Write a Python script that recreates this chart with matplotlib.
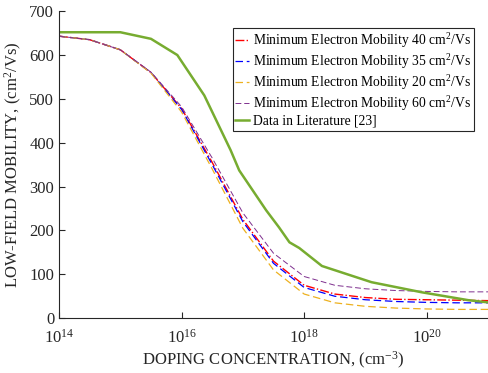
import numpy as np
import matplotlib
matplotlib.use('Agg')
import matplotlib.pyplot as plt

plt.rcParams['font.family'] = 'Liberation Serif'
plt.rcParams['mathtext.fontset'] = 'custom'
plt.rcParams['mathtext.rm'] = 'Liberation Serif'
plt.rcParams['mathtext.it'] = 'Liberation Serif'

# doping concentration as log10(cm^-3)
log_n = [14, 14.5, 15, 15.5, 16, 16.5, 17, 17.5, 18, 18.5, 19, 19.5, 20, 20.5, 21]

mob_40 = [643, 635, 612, 560, 478, 355, 225, 130, 75, 55, 47, 43, 42, 41, 40]
mob_35 = [643, 635, 612, 560, 476, 350, 220, 125, 70, 50, 42, 38, 36, 35, 35]
mob_20 = [643, 635, 612, 559, 470, 340, 205, 110, 55, 35, 27, 23, 21, 20, 20]
mob_60 = [643, 635, 612, 561, 482, 365, 240, 148, 95, 75, 67, 63, 61, 60, 60]

lit_log_n = [14, 15, 15.5, 15.93, 16.37, 16.8, 16.94, 17.38, 17.59, 17.76, 17.92,
             18.29, 19.1, 19.92, 20.68, 21]
lit_mob = [652, 652, 637, 600, 508, 383, 337, 246, 207, 173, 160,
           119, 82, 59, 41, 36]

fig = plt.figure(figsize=(4.88, 3.73), dpi=100)
ax = fig.add_axes([0.121, 0.147, 0.879, 0.823])

ax.plot(10.0 ** np.array(log_n), mob_40, color='#ff0000', ls='-.', lw=1.0,
        label='Minimum Electron Mobility 40 cm$^2$/Vs')
ax.plot(10.0 ** np.array(log_n), mob_35, color='#0000ff', ls=(0, (6, 3)), lw=0.9,
        label='Minimum Electron Mobility 35 cm$^2$/Vs')
ax.plot(10.0 ** np.array(log_n), mob_20, color='#EDB120', ls=(0, (6, 3)), lw=0.9,
        label='Minimum Electron Mobility 20 cm$^2$/Vs')
ax.plot(10.0 ** np.array(log_n), mob_60, color='#7E2F8E', ls=(0, (6, 3)), lw=0.7,
        label='Minimum Electron Mobility 60 cm$^2$/Vs')
ax.plot(10.0 ** np.array(lit_log_n), lit_mob, color='#77AC30', lw=1.8,
        label='Data in Literature [23]')

ax.set_xscale('log')
ax.set_xlim(1e14, 1e21)
ax.set_ylim(0, 700)
ax.set_xticks([1e14, 1e16, 1e18, 1e20])
ax.set_yticks(range(0, 701, 100))
ax.minorticks_off()
ax.tick_params(direction='in', labelsize=12, colors='#262626', length=4)
ax.tick_params(axis='x', pad=8)
for side in ('top', 'right'):
    ax.spines[side].set_visible(False)
for side in ('left', 'bottom'):
    ax.spines[side].set_color('#262626')

ax.set_xlabel('DOPING CONCENTRATION, (cm$^{-3}$)', fontsize=12, color='#262626',
              labelpad=2)
ax.set_ylabel('LOW-FIELD MOBILITY, (cm$^2$/Vs)', fontsize=12, color='#262626')

leg = ax.legend(loc='upper right', bbox_to_anchor=(0.983, 0.966), fontsize=9.8,
                handlelength=1.0, handletextpad=0.3, borderpad=0.2,
                labelspacing=0.15, fancybox=False, framealpha=1)
leg.get_frame().set_edgecolor('#262626')
leg.get_frame().set_linewidth(0.8)

fig.savefig('out.png', dpi=100)
